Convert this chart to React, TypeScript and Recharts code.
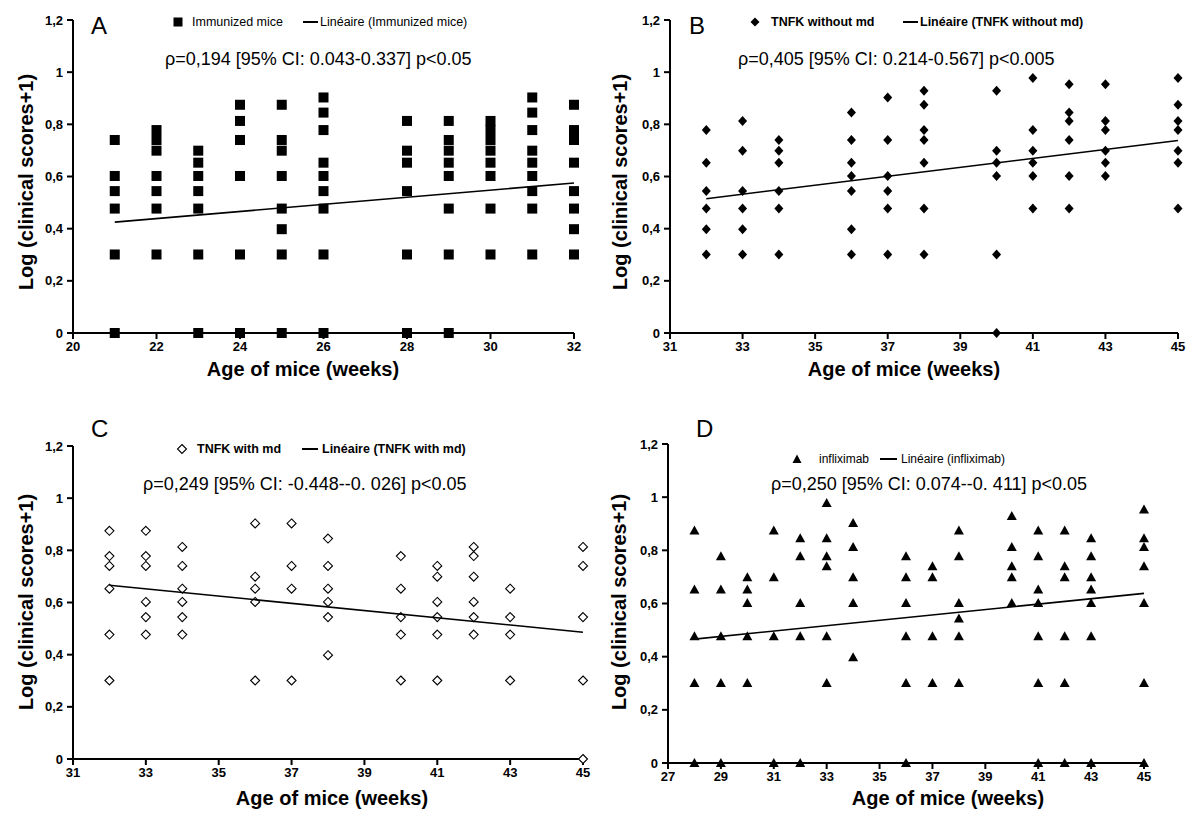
import React from 'react';
import { ScatterChart, Scatter, XAxis, YAxis } from 'recharts';

const FONT = '"Liberation Sans", Arial, Helvetica, sans-serif';

// ---------- data (log10(clinical score + 1)) ----------
const weeksA = [21, 22, 23, 24, 25, 26, 28, 29, 30, 31, 32];
const scoresA = [
  [0, 0.301, 0.477, 0.544, 0.602, 0.740],
  [0.301, 0.477, 0.544, 0.602, 0.699, 0.740, 0.778],
  [0, 0.301, 0.477, 0.544, 0.602, 0.653, 0.699],
  [0, 0.301, 0.602, 0.740, 0.813, 0.875],
  [0, 0.301, 0.398, 0.477, 0.602, 0.699, 0.740, 0.875],
  [0, 0.301, 0.477, 0.544, 0.602, 0.653, 0.778, 0.845, 0.903],
  [0, 0.301, 0.544, 0.653, 0.699, 0.813],
  [0, 0.301, 0.477, 0.602, 0.653, 0.699, 0.740, 0.813],
  [0.301, 0.477, 0.602, 0.653, 0.699, 0.740, 0.778, 0.813],
  [0.301, 0.477, 0.544, 0.602, 0.653, 0.699, 0.778, 0.845, 0.903],
  [0.301, 0.398, 0.477, 0.544, 0.653, 0.740, 0.778, 0.875],
];
const trendXA = [21, 32];
const trendYA = [0.425, 0.575];

const weeksB = [32, 33, 34, 36, 37, 38, 40, 41, 42, 43, 45];
const scoresB = [
  [0.301, 0.398, 0.477, 0.544, 0.653, 0.778],
  [0.301, 0.398, 0.477, 0.544, 0.699, 0.813],
  [0.301, 0.477, 0.544, 0.653, 0.699, 0.740],
  [0.301, 0.398, 0.544, 0.602, 0.653, 0.740, 0.845],
  [0.301, 0.477, 0.544, 0.602, 0.740, 0.903],
  [0.301, 0.477, 0.653, 0.740, 0.778, 0.875, 0.929],
  [0, 0.301, 0.602, 0.653, 0.699, 0.929],
  [0.477, 0.602, 0.653, 0.699, 0.778, 0.978],
  [0.477, 0.602, 0.740, 0.813, 0.845, 0.954],
  [0.602, 0.653, 0.699, 0.778, 0.813, 0.954],
  [0.477, 0.653, 0.699, 0.778, 0.813, 0.875, 0.978],
];
const trendXB = [32, 45];
const trendYB = [0.515, 0.738];

const weeksC = [32, 33, 34, 36, 37, 38, 40, 41, 42, 43, 45];
const scoresC = [
  [0.301, 0.477, 0.653, 0.740, 0.778, 0.875],
  [0.477, 0.544, 0.602, 0.740, 0.778, 0.875],
  [0.477, 0.544, 0.602, 0.653, 0.740, 0.813],
  [0.301, 0.602, 0.653, 0.699, 0.903],
  [0.301, 0.653, 0.740, 0.903],
  [0.398, 0.544, 0.602, 0.653, 0.740, 0.845],
  [0.301, 0.477, 0.544, 0.653, 0.778],
  [0.301, 0.477, 0.544, 0.602, 0.699, 0.740],
  [0.477, 0.544, 0.602, 0.699, 0.778, 0.813],
  [0.301, 0.477, 0.544, 0.653],
  [0, 0.301, 0.544, 0.740, 0.813],
];
const trendXC = [32, 45];
const trendYC = [0.666, 0.486];

const weeksD = [28, 29, 30, 31, 32, 33, 34, 36, 37, 38, 40, 41, 42, 43, 45];
const scoresD = [
  [0, 0.301, 0.477, 0.653, 0.875],
  [0, 0.301, 0.477, 0.653, 0.778],
  [0.301, 0.477, 0.602, 0.653, 0.699],
  [0, 0.477, 0.699, 0.875],
  [0, 0.477, 0.602, 0.778, 0.845],
  [0.301, 0.477, 0.740, 0.778, 0.845, 0.978],
  [0.398, 0.602, 0.699, 0.813, 0.903],
  [0, 0.301, 0.477, 0.602, 0.699, 0.778],
  [0.301, 0.477, 0.699, 0.740],
  [0.301, 0.477, 0.544, 0.602, 0.778, 0.875],
  [0.602, 0.699, 0.740, 0.813, 0.929],
  [0, 0.301, 0.477, 0.602, 0.653, 0.778, 0.875],
  [0, 0.301, 0.477, 0.699, 0.740, 0.875],
  [0, 0.477, 0.602, 0.653, 0.699, 0.778, 0.845],
  [0, 0.301, 0.602, 0.740, 0.813, 0.845, 0.954],
];
const trendXD = [28, 45];
const trendYD = [0.466, 0.638];

const yTicks = [0, 0.2, 0.4, 0.6, 0.8, 1, 1.2];
const xTicksA = [20, 22, 24, 26, 28, 30, 32];
const xTicksB = [31, 33, 35, 37, 39, 41, 43, 45];
const xTicksC = [31, 33, 35, 37, 39, 41, 43, 45];
const xTicksD = [27, 29, 31, 33, 35, 37, 39, 41, 43, 45];

// ---------- helpers ----------
const toPoints = (weeks: number[], scores: number[][]) =>
  weeks.flatMap((w, i) => scores[i].map((v) => ({ x: w, y: v })));
const toTrend = (xs: number[], ys: number[]) => xs.map((x, i) => ({ x, y: ys[i] }));

const fmtY = (v: number) => (v === 0 ? '0' : v === 1 ? '1' : v.toFixed(1).replace('.', ','));

const SquareShape = (p: any) => (
  <rect x={p.cx - 5} y={p.cy - 5} width={10} height={10} fill="#000" />
);
const DiamondShape = (p: any) => (
  <polygon
    points={`${p.cx},${p.cy - 5} ${p.cx + 4.5},${p.cy} ${p.cx},${p.cy + 5} ${p.cx - 4.5},${p.cy}`}
    fill="#000"
  />
);
const HollowDiamondShape = (p: any) => (
  <polygon
    points={`${p.cx},${p.cy - 4.5} ${p.cx + 4.5},${p.cy} ${p.cx},${p.cy + 4.5} ${p.cx - 4.5},${p.cy}`}
    fill="#fff"
    stroke="#000"
    strokeWidth={1.1}
  />
);
const TriangleShape = (p: any) => (
  <polygon
    points={`${p.cx},${p.cy - 5} ${p.cx + 5},${p.cy + 4} ${p.cx - 5},${p.cy + 4}`}
    fill="#000"
  />
);
const NoShape = () => <g />;

const tickStyle = { fill: '#000', fontSize: 13, fontWeight: 'bold' as const, fontFamily: FONT };

type PanelProps = {
  left: number;
  top: number;
  width: number;
  height: number;
  plotX0: number;
  plotX1: number;
  plotY0: number;
  plotY1: number;
  xDomain: [number, number];
  xTicks: number[];
  points: { x: number; y: number }[];
  trend: { x: number; y: number }[];
  shape: any;
};

const Panel = (p: PanelProps) => {
  const yAxisWidth = p.plotX0 - p.left;
  const marginTop = p.plotY0 - p.top;
  const marginRight = p.left + p.width - p.plotX1;
  const xAxisHeight = p.top + p.height - p.plotY1;
  return (
    <div style={{ position: 'absolute', left: p.left, top: p.top }}>
      <ScatterChart
        width={p.width}
        height={p.height}
        margin={{ top: marginTop, right: marginRight, bottom: 0, left: 0 }}
      >
        <XAxis
          type="number"
          dataKey="x"
          domain={p.xDomain}
          ticks={p.xTicks}
          interval={0}
          height={xAxisHeight}
          tick={tickStyle}
          tickSize={6}
          tickMargin={3}
          axisLine={{ stroke: '#000', strokeWidth: 2 }}
          tickLine={{ stroke: '#000', strokeWidth: 2 }}
        />
        <YAxis
          type="number"
          dataKey="y"
          domain={[0, 1.2]}
          ticks={yTicks}
          interval={0}
          width={yAxisWidth}
          tickFormatter={fmtY}
          tick={tickStyle}
          tickSize={6}
          tickMargin={4}
          axisLine={{ stroke: '#000', strokeWidth: 2 }}
          tickLine={{ stroke: '#000', strokeWidth: 2 }}
        />
        <Scatter data={p.points} shape={p.shape} isAnimationActive={false} />
        <Scatter
          data={p.trend}
          shape={NoShape}
          line={{ stroke: '#000', strokeWidth: 1.6 }}
          lineType="joint"
          isAnimationActive={false}
        />
      </ScatterChart>
    </div>
  );
};

const Txt = ({
  x,
  y,
  size,
  bold,
  center,
  children,
}: {
  x: number;
  y: number;
  size: number;
  bold?: boolean;
  center?: boolean;
  children: React.ReactNode;
}) => (
  <div
    style={{
      position: 'absolute',
      left: x,
      top: y - size * 0.6,
      fontSize: size,
      lineHeight: `${size * 1.2}px`,
      fontWeight: bold ? 'bold' : 'normal',
      fontFamily: FONT,
      whiteSpace: 'nowrap',
      color: '#000',
      transform: center ? 'translateX(-50%)' : undefined,
    }}
  >
    {children}
  </div>
);

const YLabel = ({ x, y }: { x: number; y: number }) => (
  <div
    style={{
      position: 'absolute',
      left: x,
      top: y,
      fontSize: 20,
      lineHeight: '24px',
      fontWeight: 'bold',
      fontFamily: FONT,
      whiteSpace: 'nowrap',
      transform: 'translate(-50%, -50%) rotate(-90deg)',
    }}
  >
    Log (clinical scores+1)
  </div>
);

const LegendSym = ({ x, y, kind }: { x: number; y: number; kind: string }) => (
  <svg
    style={{ position: 'absolute', left: x - 6, top: y - 6 }}
    width={12}
    height={12}
  >
    {kind === 'square' && <rect x={1.5} y={1.5} width={9} height={9} fill="#000" />}
    {kind === 'diamond' && <polygon points="6,1.5 10.5,6 6,10.5 1.5,6" fill="#000" />}
    {kind === 'hollow' && (
      <polygon points="6,1.5 10.5,6 6,10.5 1.5,6" fill="#fff" stroke="#000" strokeWidth={1.1} />
    )}
    {kind === 'triangle' && <polygon points="6,1.5 10.5,10 1.5,10" fill="#000" />}
  </svg>
);

const LegendLine = ({ x0, x1, y }: { x0: number; x1: number; y: number }) => (
  <div
    style={{
      position: 'absolute',
      left: x0,
      top: y - 0.75,
      width: x1 - x0,
      height: 1.5,
      background: '#000',
    }}
  />
);

export default function App() {
  return (
    <div
      style={{
        position: 'absolute',
        left: 0,
        top: 0,
        width: 1200,
        height: 829,
        background: '#fff',
        overflow: 'hidden',
      }}
    >
      {/* Panel A */}
      <Panel
        left={0}
        top={0}
        width={600}
        height={400}
        plotX0={73}
        plotX1={574}
        plotY0={20}
        plotY1={333}
        xDomain={[20, 32]}
        xTicks={xTicksA}
        points={toPoints(weeksA, scoresA)}
        trend={toTrend(trendXA, trendYA)}
        shape={SquareShape}
      />
      {/* Panel B */}
      <Panel
        left={600}
        top={0}
        width={600}
        height={400}
        plotX0={670}
        plotX1={1178}
        plotY0={20}
        plotY1={333}
        xDomain={[31, 45]}
        xTicks={xTicksB}
        points={toPoints(weeksB, scoresB)}
        trend={toTrend(trendXB, trendYB)}
        shape={DiamondShape}
      />
      {/* Panel C */}
      <Panel
        left={0}
        top={400}
        width={600}
        height={429}
        plotX0={73}
        plotX1={583}
        plotY0={446}
        plotY1={759}
        xDomain={[31, 45]}
        xTicks={xTicksC}
        points={toPoints(weeksC, scoresC)}
        trend={toTrend(trendXC, trendYC)}
        shape={HollowDiamondShape}
      />
      {/* Panel D */}
      <Panel
        left={600}
        top={400}
        width={600}
        height={429}
        plotX0={668}
        plotX1={1144}
        plotY0={444}
        plotY1={763}
        xDomain={[27, 45]}
        xTicks={xTicksD}
        points={toPoints(weeksD, scoresD)}
        trend={toTrend(trendXD, trendYD)}
        shape={TriangleShape}
      />

      {/* Panel letters */}
      <Txt x={91} y={26} size={24}>A</Txt>
      <Txt x={689} y={26} size={24}>B</Txt>
      <Txt x={91} y={429} size={24}>C</Txt>
      <Txt x={696} y={429} size={24}>D</Txt>

      {/* Legends */}
      <LegendSym x={178} y={22} kind="square" />
      <Txt x={192} y={22} size={12.5}>Immunized mice</Txt>
      <LegendLine x0={303} x1={318} y={22} />
      <Txt x={320} y={22} size={12.5}>Linéaire (Immunized mice)</Txt>

      <LegendSym x={755} y={22} kind="diamond" />
      <Txt x={771} y={22} size={12.5} bold>TNFK without md</Txt>
      <LegendLine x0={903} x1={918} y={22} />
      <Txt x={920} y={22} size={12.5} bold>Linéaire (TNFK without md)</Txt>

      <LegendSym x={182} y={449} kind="hollow" />
      <Txt x={197} y={449} size={12.5} bold>TNFK with md</Txt>
      <LegendLine x0={302} x1={318} y={449} />
      <Txt x={322} y={449} size={12.5} bold>Linéaire (TNFK with md)</Txt>

      <LegendSym x={797} y={459} kind="triangle" />
      <Txt x={819} y={459} size={12}>infliximab</Txt>
      <LegendLine x0={880} x1={897} y={459} />
      <Txt x={901} y={459} size={12}>Linéaire (infliximab)</Txt>

      {/* Statistics */}
      <Txt x={165} y={60} size={18}>ρ=0,194 [95% CI: 0.043-0.337] p&lt;0.05</Txt>
      <Txt x={738} y={60} size={18}>ρ=0,405 [95% CI: 0.214-0.567] p&lt;0.005</Txt>
      <Txt x={143} y={485} size={18}>ρ=0,249 [95% CI: -0.448--0. 026] p&lt;0.05</Txt>
      <Txt x={771} y={485} size={18}>ρ=0,250 [95% CI: 0.074--0. 411] p&lt;0.05</Txt>

      {/* Axis titles */}
      <Txt x={303} y={369} size={20} bold center>Age of mice (weeks)</Txt>
      <Txt x={904} y={369} size={20} bold center>Age of mice (weeks)</Txt>
      <Txt x={332} y={798} size={20} bold center>Age of mice (weeks)</Txt>
      <Txt x={948} y={798} size={20} bold center>Age of mice (weeks)</Txt>

      <YLabel x={26} y={182} />
      <YLabel x={620} y={182} />
      <YLabel x={26} y={602} />
      <YLabel x={619} y={602} />
    </div>
  );
}
